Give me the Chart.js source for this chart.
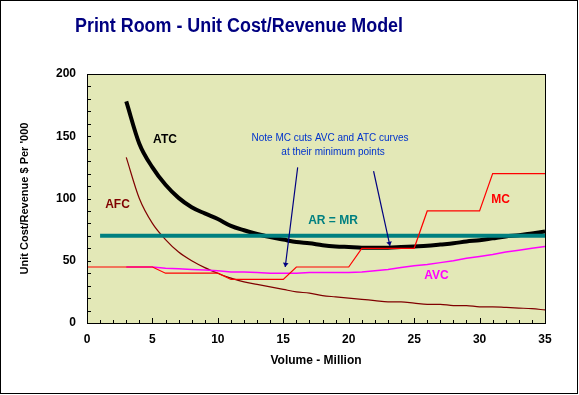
<!DOCTYPE html>
<html>
<head>
<meta charset="utf-8">
<script src="https://cdn.jsdelivr.net/npm/chart.js@4.4.1/dist/chart.umd.min.js"></script>
<style>
  html, body { margin: 0; padding: 0; background: #fff; }
  #wrap { width: 579px; height: 395px; position: relative; }
</style>
</head>
<body>
<div id="wrap"><canvas id="costChart" width="579" height="395"></canvas></div>
<script>
// volume (million) for each series
const costVolume = [3, 4, 5, 6, 7, 8, 9, 10, 11, 12, 13, 14, 15, 16, 17, 18, 19, 20,
  21, 22, 23, 24, 25, 26, 27, 28, 29, 30, 31, 32, 33, 34, 35];
const mcVolume = [0, 1, 2, 3, 4, 5, 6, 7, 8, 9, 10, 11, 12, 13, 14, 15, 16, 17, 18, 19, 20,
  21, 22, 23, 24, 25, 26, 27, 28, 29, 30, 31, 32, 33, 34, 35];
const arVolume = [1, 35];

// unit costs, $ per '000
const atcValues = [178, 144, 125, 111, 100.5, 93, 88, 83.5, 78, 74.5, 71.5, 69, 67, 65, 64, 62.5, 61.5, 61,
  60.5, 60.5, 60.5, 61, 61.5, 62, 63, 64, 65.5, 66.5, 68, 69.5, 70.5, 72, 73.5];
const afcValues = [133, 100, 80, 67, 57, 50, 44.5, 40, 36, 33, 31, 29, 27, 25, 24, 22, 21, 20,
  19, 18, 17, 17, 16, 15, 15, 14, 14, 13, 13, 12.5, 12, 11.5, 10.5];
const avcValues = [45, 45, 45, 44, 43.5, 43, 42.5, 42, 41, 41, 40.5, 40, 40, 40, 40.5, 40.5, 40.5, 40.5,
  41, 42, 43, 44.5, 46, 47, 48.5, 50, 52, 53.5, 55, 57, 58.5, 60, 61.5];
const mcValues = [45, 45, 45, 45, 45, 45, 40, 40, 40, 40, 40, 35, 35, 35, 35, 35, 45, 45, 45, 45, 45,
  60, 60, 60, 60, 60, 90, 90, 90, 90, 90, 120, 120, 120, 120, 120];
const arValues = [70, 70];

const xTicks = [0, 5, 10, 15, 20, 25, 30, 35];
const yTicks = [0, 50, 100, 150, 200];

// arrows of the note: [fromX, fromY, toX, toY]
const noteArrows = [[16.1, 125, 15.15, 45], [21.9, 122, 23.15, 62]];
const noteLines = ["Note MC cuts AVC and ATC curves", "at their minimum points"];

// series labels: [text, x, y, colour]
const curveLabels = [
  ["ATC", 5.96, 147, "#000000"],
  ["AFC", 2.33, 95, "#800000"],
  ["AR = MR", 18.8, 82, "#008080"],
  ["MC", 31.6, 99, "#ff0000"],
  ["AVC", 26.7, 38, "#ff00ff"]
];

const FONT = "'Liberation Sans', Arial, sans-serif";
const pts = (xs, ys) => xs.map((x, i) => ({ x: x, y: ys[i] }));

const plotBackground = {
  id: "plotBackground",
  beforeDraw(chart) {
    const { ctx, chartArea: a } = chart;
    ctx.save();
    ctx.fillStyle = "#fff";
    ctx.fillRect(0, 0, chart.width, chart.height);
    ctx.fillStyle = "#e3e8b7";
    ctx.fillRect(a.left, a.top, a.right - a.left, a.bottom - a.top);
    ctx.restore();
  }
};

const extras = {
  id: "extras",
  afterDatasetsDraw(chart) {
    const { ctx, chartArea: a, scales: { x, y } } = chart;
    ctx.save();

    // inside ticks
    ctx.strokeStyle = "#000";
    ctx.lineWidth = 1;
    ctx.beginPath();
    for (let v = 0; v <= 35; v++) {
      const px = Math.round(x.getPixelForValue(v)) + 0.5;
      const len = v % 5 === 0 ? 5 : 3;
      ctx.moveTo(px, a.bottom);
      ctx.lineTo(px, a.bottom - len);
    }
    for (let v = 0; v <= 200; v += 10) {
      const py = Math.round(y.getPixelForValue(v)) + 0.5;
      ctx.moveTo(a.left, py);
      ctx.lineTo(a.left + 4, py);
    }
    ctx.stroke();

    // plot frame
    ctx.strokeRect(Math.round(a.left) + 0.5, Math.round(a.top) + 0.5,
      Math.round(a.right - a.left), Math.round(a.bottom - a.top));

    // note arrows
    ctx.strokeStyle = "#000080";
    ctx.fillStyle = "#000080";
    noteArrows.forEach(([x0, y0, x1, y1]) => {
      const ax = x.getPixelForValue(x0), ay = y.getPixelForValue(y0);
      const bx = x.getPixelForValue(x1), by = y.getPixelForValue(y1);
      ctx.lineWidth = 1.2;
      ctx.beginPath();
      ctx.moveTo(ax, ay);
      ctx.lineTo(bx, by);
      ctx.stroke();
      const ang = Math.atan2(by - ay, bx - ax);
      ctx.beginPath();
      ctx.moveTo(bx, by);
      ctx.lineTo(bx - 5 * Math.cos(ang - 0.6), by - 5 * Math.sin(ang - 0.6));
      ctx.lineTo(bx - 5 * Math.cos(ang + 0.6), by - 5 * Math.sin(ang + 0.6));
      ctx.closePath();
      ctx.fill();
    });

    // note text
    ctx.fillStyle = "#0033cc";
    ctx.font = "10px " + FONT;
    ctx.textAlign = "center";
    ctx.textBaseline = "middle";
    ctx.fillText(noteLines[0], 330, 138);
    ctx.fillText(noteLines[1], 333, 152);

    // curve labels
    ctx.font = "bold 12px " + FONT;
    curveLabels.forEach(([t, lx, ly, c]) => {
      ctx.fillStyle = c;
      ctx.fillText(t, x.getPixelForValue(lx), y.getPixelForValue(ly));
    });
    ctx.restore();
  },
  afterDraw(chart) {
    const { ctx } = chart;
    ctx.save();
    // title, squeezed a little like the original
    ctx.font = "bold 20px " + FONT;
    ctx.fillStyle = "#000080";
    ctx.textBaseline = "middle";
    const title = "Print Room - Unit Cost/Revenue Model";
    const w = ctx.measureText(title).width;
    ctx.translate(75, 26);
    ctx.scale(328 / w, 1);
    ctx.fillText(title, 0, 0);
    ctx.restore();

    ctx.save();
    ctx.strokeStyle = "#000";
    ctx.lineWidth = 1;
    ctx.strokeRect(0.5, 0.5, 577, 393);
    ctx.restore();
  }
};

new Chart(document.getElementById("costChart"), {
  type: "line",
  data: {
    datasets: [
      { label: "MC", data: pts(mcVolume, mcValues), borderColor: "#ff0000", borderWidth: 1.2, order: 1 },
      { label: "AR = MR", data: pts(arVolume, arValues), borderColor: "#008080", borderWidth: 4, order: 2 },
      { label: "ATC", data: pts(costVolume, atcValues), borderColor: "#000000", borderWidth: 4, order: 3, cubicInterpolationMode: "monotone" },
      { label: "AVC", data: pts(costVolume, avcValues), borderColor: "#ff00ff", borderWidth: 1.5, order: 4 },
      { label: "AFC", data: pts(costVolume, afcValues), borderColor: "#800000", borderWidth: 1.2, order: 5, cubicInterpolationMode: "monotone" }
    ]
  },
  options: {
    responsive: false,
    animation: false,
    layout: { padding: { left: 0, right: 34, top: 74, bottom: 0 } },
    elements: { point: { radius: 0 }, line: { borderCapStyle: "butt" } },
    plugins: { legend: { display: false }, tooltip: { enabled: false } },
    scales: {
      x: {
        type: "linear",
        min: 0, max: 35,
        afterFit: s => { s.height = 72; },
        afterBuildTicks: s => { s.ticks = xTicks.map(v => ({ value: v })); },
        grid: { display: false, drawTicks: false },
        border: { display: false },
        ticks: { padding: 9, color: "#000", font: { family: FONT, size: 12, weight: "bold" } },
        title: { display: true, text: "Volume - Million", color: "#000", padding: { top: 0, bottom: 27 },
          font: { family: FONT, size: 12, weight: "bold" } }
      },
      y: {
        min: 0, max: 200,
        afterFit: s => { s.width = 87; },
        afterBuildTicks: s => { s.ticks = yTicks.map(v => ({ value: v })); },
        grid: { display: false, drawTicks: false },
        border: { display: false },
        ticks: { padding: 11, color: "#000", font: { family: FONT, size: 12, weight: "bold" } },
        title: { display: true, text: "Unit Cost/Revenue $ Per '000", color: "#000", padding: { top: 18, bottom: 0 },
          font: { family: FONT, size: 11, weight: "bold" } }
      }
    }
  },
  plugins: [plotBackground, extras]
});
</script>
</body>
</html>
